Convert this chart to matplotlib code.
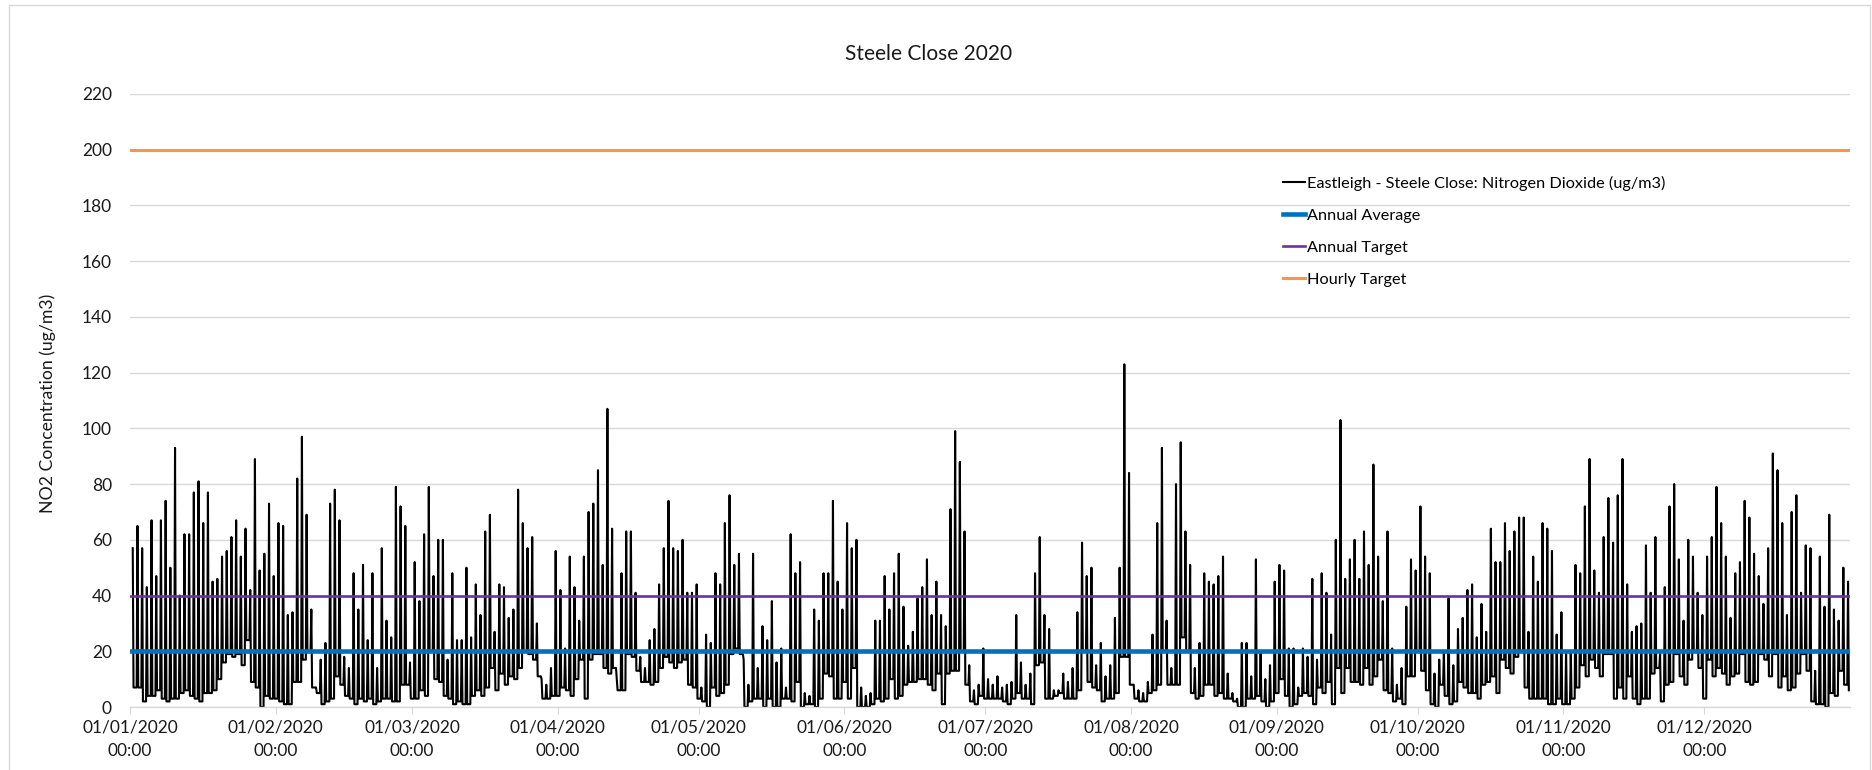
import matplotlib
matplotlib.use("Agg")
import matplotlib.pyplot as plt
from matplotlib.patches import Rectangle
import pandas as pd

plt.rcParams['font.family'] = ['Lato', 'DejaVu Sans']

# daily peak / trough of the hourly NO2 trace (ug/m3), 01/01/2020 .. 31/12/2020
daily_peak = [
    57, 65, 57, 43, 67, 47, 67, 74, 50, 93, 40, 62, 62, 77, 81, 66, 77, 45, 46, 54,
    56, 61, 67, 54, 64, 42, 89, 49, 55, 73, 47,                                      # Jan
    66, 65, 33, 34, 82, 97, 69, 35, 7, 17, 23, 73, 78, 67, 18, 14, 48, 35, 51,
    24, 48, 14, 57, 31, 25, 79, 72, 65, 16,                                          # Feb
    52, 38, 62, 79, 47, 60, 60, 17, 48, 24, 24, 50, 25, 44, 33, 63, 69, 27, 44, 43,
    32, 35, 78, 66, 57, 61, 30, 10, 8, 14, 56,                                       # Mar
    42, 21, 54, 43, 31, 54, 70, 73, 85, 51, 107, 64, 10, 48, 63, 63, 41, 18, 14,
    24, 28, 44, 57, 74, 57, 56, 60, 41, 41, 44,                                      # Apr
    7, 26, 23, 48, 44, 66, 76, 51, 55, 17, 8, 55, 14, 29, 24, 38, 16, 21, 7,
    62, 48, 52, 5, 4, 35, 31, 48, 48, 74, 45, 35,                                    # May
    66, 57, 60, 7, 4, 5, 31, 31, 47, 35, 48, 55, 36, 22, 27, 39, 43, 53,
    33, 45, 33, 29, 71, 99, 88, 63, 15, 6, 8, 21,                                    # Jun
    10, 8, 11, 7, 8, 9, 33, 16, 8, 12, 48, 61, 33, 28, 6, 6, 12, 9,
    14, 34, 59, 47, 50, 15, 23, 11, 15, 32, 50, 123, 84,                             # Jul
    8, 6, 5, 9, 26, 66, 93, 31, 14, 80, 95, 63, 51, 14, 23, 48, 45,
    44, 47, 54, 12, 5, 3, 23, 23, 11, 53, 20, 10, 15, 45,                            # Aug
    51, 49, 21, 21, 7, 21, 18, 46, 17, 48, 41, 26, 60, 103, 46, 53,
    60, 46, 63, 51, 87, 54, 38, 63, 21, 8, 14, 36, 53, 49,                           # Sep
    72, 54, 48, 12, 17, 20, 39, 15, 28, 32, 42, 44, 25, 37, 27, 64,
    52, 52, 66, 56, 63, 68, 68, 27, 54, 45, 66, 64, 56, 26, 34,                      # Oct
    20, 20, 51, 48, 72, 89, 49, 41, 61, 75, 59, 76, 89, 44, 27,
    29, 30, 58, 41, 61, 19, 43, 72, 80, 53, 31, 60, 54, 41, 33,                      # Nov
    54, 61, 79, 66, 54, 32, 48, 52, 74, 68, 55, 47, 37, 57, 91,
    85, 66, 33, 70, 76, 41, 58, 57, 13, 54, 36, 69, 35, 31, 50, 45,                  # Dec
]
daily_low = [
    7, 7, 2, 4, 4, 6, 3, 2, 3, 3, 5, 6, 4, 3, 2, 5, 5, 6, 10, 16,
    19, 18, 19, 15, 24, 9, 7, 0, 4, 3, 3,
    2, 1, 1, 9, 9, 17, 20, 7, 5, 1, 2, 3, 11, 8, 4, 3, 1, 3, 2,
    3, 1, 2, 3, 3, 2, 2, 8, 8, 3,
    3, 6, 4, 20, 10, 9, 4, 3, 1, 2, 1, 1, 4, 6, 4, 7, 14, 6, 12, 8,
    11, 10, 14, 20, 19, 17, 11, 3, 3, 4, 4,
    7, 6, 4, 10, 17, 3, 17, 19, 19, 14, 12, 14, 6, 6, 19, 18, 13, 9, 9,
    8, 9, 14, 18, 16, 14, 16, 17, 8, 7, 3,
    2, 0, 7, 4, 5, 8, 19, 21, 19, 0, 2, 3, 3, 0, 3, 0, 0, 3, 3,
    2, 9, 0, 1, 1, 0, 3, 12, 11, 3, 3, 9,
    3, 14, 0, 0, 0, 1, 3, 2, 3, 10, 3, 4, 8, 9, 9, 10, 10, 8,
    6, 12, 1, 12, 13, 13, 20, 8, 2, 1, 4, 3,
    3, 3, 3, 2, 1, 3, 5, 3, 3, 1, 15, 16, 3, 3, 4, 5, 3, 3,
    3, 6, 20, 9, 7, 6, 2, 3, 3, 5, 18, 18, 8,
    3, 2, 2, 5, 6, 8, 20, 8, 8, 8, 25, 20, 5, 3, 4, 8, 8,
    4, 5, 3, 3, 2, 0, 0, 3, 3, 4, 2, 0, 2, 5,
    10, 4, 0, 1, 4, 5, 4, 1, 7, 5, 9, 1, 14, 5, 14, 9,
    9, 8, 14, 8, 11, 17, 6, 5, 2, 3, 1, 11, 11, 20,
    13, 6, 1, 0, 8, 4, 1, 2, 9, 7, 5, 5, 3, 8, 9, 11,
    5, 17, 14, 12, 18, 20, 7, 3, 3, 3, 3, 1, 1, 3, 1,
    1, 3, 7, 15, 11, 17, 14, 11, 19, 19, 3, 7, 3, 11, 3,
    1, 3, 3, 12, 14, 2, 8, 9, 19, 11, 8, 17, 20, 14, 3,
    17, 11, 14, 12, 8, 11, 12, 19, 9, 8, 9, 19, 17, 11, 19,
    7, 11, 6, 7, 12, 19, 13, 2, 1, 1, 0, 5, 4, 13, 8, 6,
]
assert len(daily_peak) == 366 and len(daily_low) == 366

annual_average = 20
annual_target = 40
hourly_target = 200

series_label = "Eastleigh - Steele Close: Nitrogen Dioxide (ug/m3)"
days = pd.date_range("2020-01-01", periods=366, freq="D")

# rebuild the trace: rise from previous trough, peak mid-afternoon, fall back
times, values = [], []
for i, day in enumerate(days):
    if i > 0:
        times.append(day + pd.Timedelta(hours=10))
        values.append(daily_low[i - 1])
    times.append(day + pd.Timedelta(hours=14))
    values.append(daily_peak[i])
    times.append(day + pd.Timedelta(hours=18))
    values.append(daily_low[i])

line_span = [days[0], days[-1] + pd.Timedelta(hours=23)]

fig = plt.figure(figsize=(18.72, 7.70), dpi=100)
fig.patches.append(Rectangle((9 / 1872, -0.05), (1870 - 9) / 1872, 1.05 - 5 / 770,
                             transform=fig.transFigure, fill=False,
                             edgecolor="#d9d9d9", linewidth=1.0))
ax = fig.add_axes([130 / 1872, 1 - 707 / 770, 1720 / 1872, 613 / 770])

ax.plot(times, values, color="black", lw=1.5, label=series_label, zorder=2)
ax.plot(line_span, [annual_average] * 2, color="#0070C0", lw=3.3, label="Annual Average", zorder=3)
ax.plot(line_span, [annual_target] * 2, color="#7030A0", lw=1.9, label="Annual Target", zorder=3)
ax.plot(line_span, [hourly_target] * 2, color="#F79646", lw=2.2, label="Hourly Target", zorder=3)

ax.set_xlim(pd.Timestamp("2020-01-01"), pd.Timestamp("2021-01-01"))
ax.set_ylim(0, 220)
ax.set_yticks(range(0, 221, 20))
ax.grid(axis="y", color="#d9d9d9", lw=1.0)
ax.set_axisbelow(True)
for s in ["top", "right", "left"]:
    ax.spines[s].set_visible(False)
ax.spines["bottom"].set_color("#d9d9d9")
ax.spines["bottom"].set_linewidth(1.0)

month_starts = pd.date_range("2020-01-01", "2020-12-01", freq="MS")
ax.set_xticks(month_starts)
ax.set_xticklabels([d.strftime("%d/%m/%Y") + "\n00:00" for d in month_starts],
                   linespacing=1.55)
ax.tick_params(axis="x", length=5, color="#d9d9d9", pad=4, labelsize=12.5, labelcolor="#1a1a1a")
ax.tick_params(axis="y", length=0, pad=13, labelsize=12.5, labelcolor="#1a1a1a")

fig.text(929 / 1872, 1 - 54 / 770, "Steele Close 2020", ha="center", va="center",
         fontsize=15, color="#1a1a1a")
fig.text(48 / 1872, 1 - 403 / 770, "NO2 Concentration (ug/m3)", rotation=90,
         ha="center", va="center", fontsize=12.7, color="#1a1a1a")

ax.legend(loc="upper left", bbox_to_anchor=(1283 / 1872, 1 - 176 / 770),
          bbox_transform=fig.transFigure, frameon=False, fontsize=11.7,
          handlelength=1.35, handletextpad=0.15, labelspacing=1.08,
          borderpad=0, borderaxespad=0)

fig.savefig("out.png", dpi=100)
